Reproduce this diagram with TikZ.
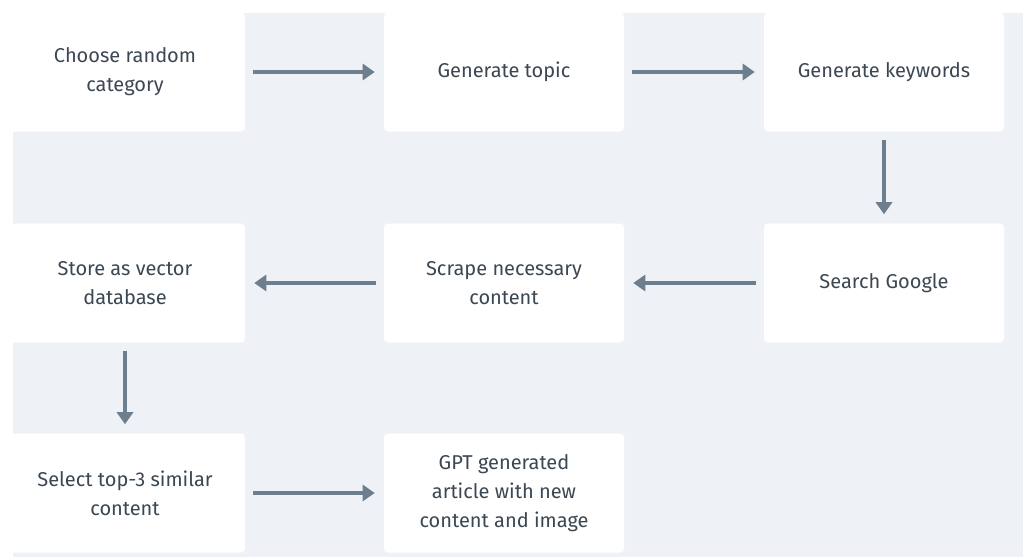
\documentclass[tikz,border=0pt]{standalone}
\usepackage{fontspec}
\setmainfont{Fira Sans}
\usepackage{tikz}
\usetikzlibrary{positioning,arrows.meta}
\usepackage{xcolor}
\definecolor{bggray}{HTML}{EEF2F6}
\definecolor{arrowgray}{HTML}{6D7F8E}
\definecolor{textgray}{HTML}{3B4752}

\begin{document}
\begin{tikzpicture}[
      x=0.75pt,
      y=-0.75pt,
      >={Triangle[width=12pt,length=9pt]},
      step box/.style={fill=white,rounded corners=3pt,minimum width=180pt,minimum height=89.25pt,align=center,text=textgray,font=\fontsize{15}{21.75}\selectfont},
      flow/.style={->,arrowgray,line width=2.8pt,shorten <=6pt,shorten >=6.75pt}
    ]
      \useasboundingbox (0,0) rectangle (1023,557);
      \fill[bggray] (13,13) rectangle (1023,557);
      \begin{scope}
        \clip (13,13) rectangle (1023,557);
        \node[step box] (category) at (125,72) {Choose random\\category};
        \node[step box] (topic) at (504,72) {Generate topic};
        \node[step box] (keywords) at (884,72) {Generate keywords};

        \node[step box] (search) at (884,283) {Search Google};
        \node[step box] (scrape) at (504,283) {Scrape necessary\\content};
        \node[step box] (store) at (125,283) {Store as vector\\database};

        \node[step box] (select) at (125,493) {Select top-3 similar\\content};
        \node[step box] (article) at (504,493) {GPT generated\\article with new\\content and image};
      \end{scope}

      \draw[flow] (category) -- (topic);
      \draw[flow] (topic) -- (keywords);
      \draw[flow] (keywords) -- (search);
      \draw[flow] (search) -- (scrape);
      \draw[flow] (scrape) -- (store);
      \draw[flow] (store) -- (select);
      \draw[flow] (select) -- (article);
    \end{tikzpicture}
\end{document}
